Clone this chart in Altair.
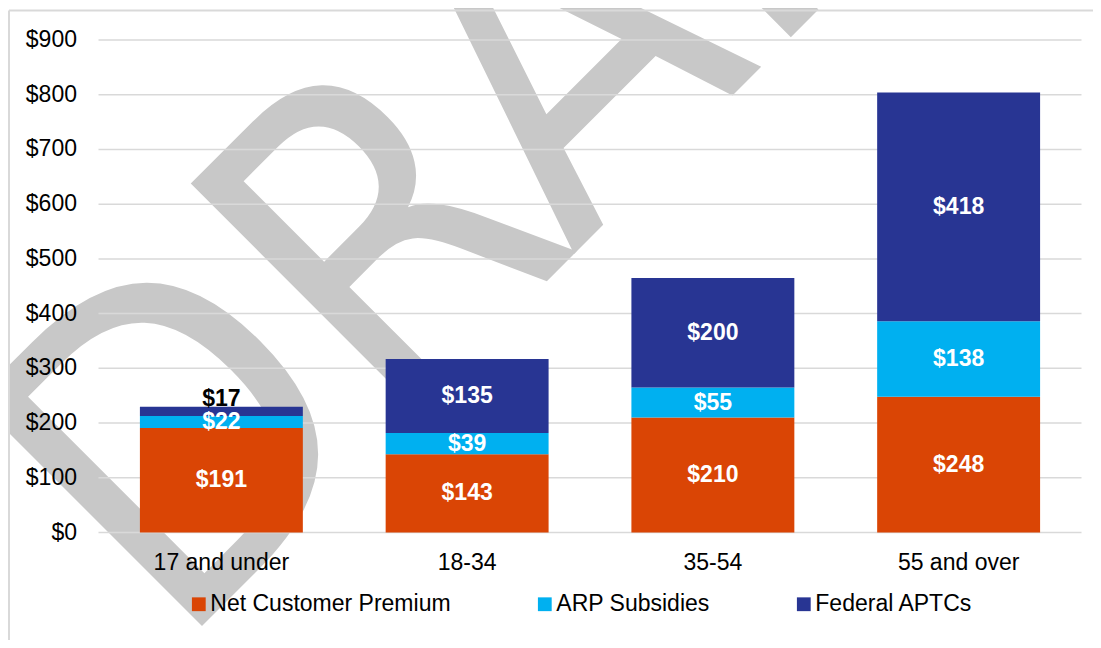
import altair as alt
import pandas as pd

# ---- data ----
categories = ["17 and under", "18-34", "35-54", "55 and over"]
series_names = ["Net Customer Premium", "ARP Subsidies", "Federal APTCs"]
net_premium = [191, 143, 210, 248]
arp_subsidies = [22, 39, 55, 138]
federal_aptcs = [17, 135, 200, 418]
y_ticks = [0, 100, 200, 300, 400, 500, 600, 700, 800, 900]
series_colors = ["#DA4505", "#00B0F0", "#283593"]
watermark_text = ["DRAFT"]

FONT = "Liberation Sans, Arial, Helvetica, sans-serif"
WM_FONT = "DejaVu Sans Condensed, DejaVu Sans, sans-serif"

rows = []
for i, cat in enumerate(categories):
    for j, (s, vals) in enumerate(zip(series_names, [net_premium, arp_subsidies, federal_aptcs])):
        rows.append({"age": cat, "series": s, "order": j, "value": vals[i]})
df = pd.DataFrame(rows)

base = (
    alt.Chart(df)
    .transform_stack(
        stack="value",
        groupby=["age"],
        sort=[alt.SortField("order", order="ascending")],
        as_=["y0", "y1"],
    )
    .transform_calculate(mid="(datum.y0 + datum.y1) / 2", label="'$' + datum.value")
)

x_scale = alt.Scale(domain=categories, paddingInner=0.337, paddingOuter=0.1685)
y_scale = alt.Scale(domain=[0, 900], nice=False, zero=True)

bars = base.mark_bar().encode(
    x=alt.X("age:N", sort=categories, scale=x_scale, axis=None),
    y=alt.Y("y0:Q", scale=y_scale, axis=None),
    y2="y1:Q",
    color=alt.Color(
        "series:N",
        scale=alt.Scale(domain=series_names, range=series_colors),
        legend=alt.Legend(
            title=None, orient="none", legendX=88.8, legendY=552.5,
            direction="horizontal", symbolType="square", symbolSize=190,
            symbolStrokeWidth=0, labelFontSize=23, labelFont=FONT,
            labelColor="#000000", labelOffset=0, columnPadding=82,
            padding=0, labelLimit=500,
        ),
    ),
)

labels_in = base.transform_filter("datum.value >= 20").mark_text(
    font=FONT, fontSize=23, fontWeight="bold", color="white", baseline="middle"
).encode(
    x=alt.X("age:N", sort=categories, scale=x_scale, axis=None),
    y=alt.Y("mid:Q", scale=y_scale, axis=None),
    text="label:N",
)

labels_above = base.transform_filter("datum.value < 20").mark_text(
    font=FONT, fontSize=23, fontWeight="bold", color="black",
    baseline="alphabetic", dy=-1,
).encode(
    x=alt.X("age:N", sort=categories, scale=x_scale, axis=None),
    y=alt.Y("y1:Q", scale=y_scale, axis=None),
    text="label:N",
)

# y tick labels and gridlines, from the tick list through the y scale
ticks_base = alt.Chart(pd.DataFrame({"tick": y_ticks})).transform_calculate(
    lbl="'$' + datum.tick"
)
grid = ticks_base.mark_rule(color="#d9d9d9", strokeWidth=1.5).encode(
    y=alt.Y("tick:Q", scale=y_scale, axis=None)
)
y_labels = ticks_base.mark_text(
    align="right", baseline="middle", font=FONT, fontSize=23, color="#000000"
).encode(
    x=alt.value(-21.5),
    y=alt.Y("tick:Q", scale=y_scale, axis=None),
    text="lbl:N",
)

# category labels, from the category list through the x scale
x_labels = alt.Chart(pd.DataFrame({"age": categories})).mark_text(
    align="center", baseline="alphabetic", font=FONT, fontSize=23, color="#000000"
).encode(
    x=alt.X("age:N", sort=categories, scale=x_scale, axis=None),
    y=alt.value(530),
    text="age:N",
)

# chart-area frame (only the left and top edges fall inside the picture)
one = pd.DataFrame({"f": [0]})
frame_left = alt.Chart(one).mark_rule(color="#d9d9d9", strokeWidth=2).encode(
    x=alt.value(-89.5), y=alt.value(-29.5), y2=alt.value(2000)
)
frame_top = alt.Chart(one).mark_rule(color="#d9d9d9", strokeWidth=2).encode(
    x=alt.value(-89.5), x2=alt.value(2000), y=alt.value(-29.5)
)

watermark = alt.Chart(pd.DataFrame({"t": watermark_text})).mark_text(
    font=WM_FONT, fontSize=440, color="#c8c8c8", angle=315,
    align="left", baseline="alphabetic",
).encode(text="t:N", x=alt.value(76), y=alt.value(613.5))

chart = (
    alt.layer(
        watermark, frame_left, frame_top, grid, y_labels, x_labels,
        bars, labels_in, labels_above,
    )
    .properties(
        width=983,
        height=492.5,
        padding={"left": 90.5, "top": 32, "right": 11.5, "bottom": 107.5},
        autosize=alt.AutoSizeParams(type="none"),
        background="white",
    )
    .configure_view(strokeWidth=0)
)

chart.save("out.html", embed_options={"renderer": "svg", "actions": False})
